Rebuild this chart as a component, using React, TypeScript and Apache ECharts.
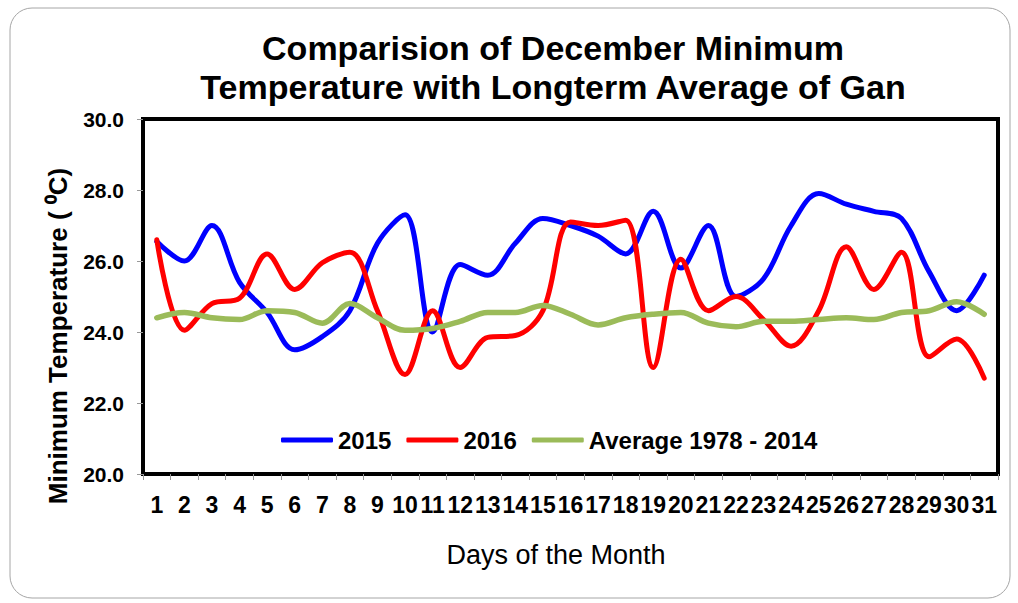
import React, { useEffect, useRef } from "react";
import * as echarts from "echarts";

const days = Array.from({ length: 31 }, (_, i) => String(i + 1));
const yr2015 = [26.55, 26.0, 27.0, 25.4, 24.55, 23.5, 23.87, 24.6, 26.5, 27.3, 24.0, 25.9, 25.6, 26.5, 27.2, 27.0, 26.7, 26.2, 27.4, 25.8, 27.0, 25.0, 25.5, 27.0, 27.9, 27.6, 27.4, 27.2, 25.7, 24.6, 25.6];
const yr2016 = [26.6, 24.05, 24.8, 24.95, 26.2, 25.2, 25.95, 26.25, 24.6, 22.8, 24.6, 23.0, 23.85, 23.9, 24.6, 27.1, 27.0, 27.15, 23.0, 26.05, 24.6, 25.0, 24.35, 23.6, 24.6, 26.4, 25.2, 26.25, 23.3, 23.8, 22.7];
const avg = [24.4, 24.55, 24.4, 24.35, 24.6, 24.55, 24.25, 24.8, 24.4, 24.05, 24.1, 24.3, 24.55, 24.55, 24.75, 24.5, 24.2, 24.4, 24.5, 24.55, 24.25, 24.15, 24.3, 24.3, 24.35, 24.4, 24.35, 24.55, 24.6, 24.85, 24.5];
const seriesNames = ["2015", "2016", "Average 1978 - 2014"];
const titleText = "Comparision of December Minimum\nTemperature with Longterm Average of Gan";
const yName = "Minimum Temperature ( \u2070C)";
const xName = "Days of the Month";

const FONT = "'Liberation Sans', Arial, sans-serif";

export default function App() {
  const ref = useRef<HTMLDivElement>(null);
  useEffect(() => {
    const chart = echarts.init(ref.current!, null, { renderer: "svg" });
    const mk = (name: string, data: number[], color: string, width: number) => ({
      name,
      type: "line",
      data,
      smooth: 0.35,
      showSymbol: false,
      symbol: "none",
      lineStyle: { color, width, cap: "round" },
      itemStyle: { color },
      z: 3,
    });
    chart.setOption({
      animation: false,
      backgroundColor: "#fff",
      textStyle: { fontFamily: FONT },
      grid: {
        left: 143,
        top: 119,
        right: 20,
        bottom: 129,
        show: true,
        borderColor: "#000",
        borderWidth: 4,
        backgroundColor: "transparent",
        containLabel: false,
      },
      legend: {
        left: 276,
        top: 423,
        itemWidth: 52,
        itemHeight: 5,
        itemGap: 15,
        icon: "roundRect",
        textStyle: { fontSize: 24, fontWeight: "bold", color: "#000", fontFamily: FONT },
        data: seriesNames,
      },
      xAxis: {
        type: "category",
        data: days,
        boundaryGap: true,
        axisLine: { show: false },
        axisTick: { show: true, length: 6, lineStyle: { color: "#999", width: 1 } },
        axisLabel: { interval: 0, margin: 19, fontSize: 23, fontWeight: "bold", color: "#000", fontFamily: FONT },
        splitLine: { show: false },
      },
      yAxis: {
        type: "value",
        min: 20,
        max: 30,
        interval: 2,
        axisLine: { show: false },
        axisTick: { show: true, length: 6, lineStyle: { color: "#999", width: 1 } },
        axisLabel: {
          margin: 19,
          fontSize: 21,
          fontWeight: "bold",
          color: "#000",
          fontFamily: FONT,
          formatter: (v: number) => v.toFixed(1),
        },
        splitLine: { show: false },
      },
      graphic: [
        {
          type: "rect",
          shape: { x: 10, y: 8, width: 1000, height: 590, r: 22 },
          style: { fill: "none", stroke: "#a6a6a6", lineWidth: 1 },
          silent: true,
          z: -1,
        },
        {
          type: "text",
          x: 553,
          y: 28,
          style: {
            text: titleText,
            fontSize: 34,
            fontWeight: "bold",
            fontFamily: FONT,
            fill: "#000",
            textAlign: "center",
            textVerticalAlign: "top",
            lineHeight: 39,
          },
        },
        {
          type: "text",
          x: 58,
          y: 336,
          rotation: Math.PI / 2,
          style: {
            text: yName,
            fontSize: 26,
            fontWeight: "bold",
            fontFamily: FONT,
            fill: "#000",
            textAlign: "center",
            textVerticalAlign: "middle",
          },
        },
        {
          type: "text",
          x: 556,
          y: 555,
          style: {
            text: xName,
            fontSize: 27,
            fontFamily: FONT,
            fill: "#000",
            textAlign: "center",
            textVerticalAlign: "middle",
          },
        },
      ],
      series: [
        mk(seriesNames[0], yr2015, "#0000FF", 5),
        mk(seriesNames[1], yr2016, "#FF0000", 5),
        mk(seriesNames[2], avg, "#9BBB59", 5.5),
      ],
    });
    return () => chart.dispose();
  }, []);
  return (
    <div
      ref={ref}
      style={{ position: "fixed", left: 0, top: 0, width: 1018, height: 603 }}
    />
  );
}
